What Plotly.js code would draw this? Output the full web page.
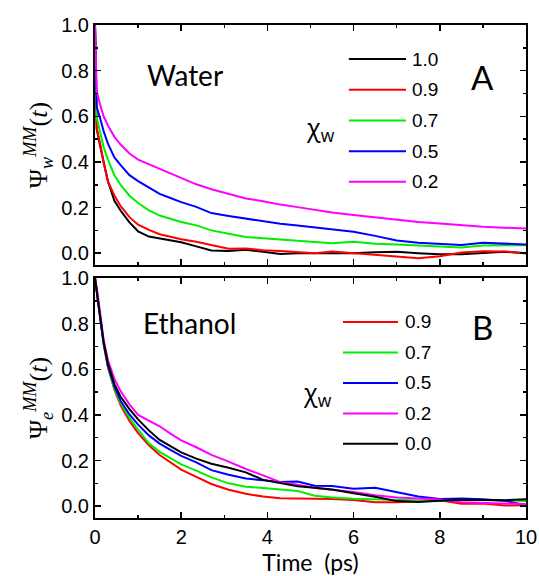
<!DOCTYPE html>
<html>
<head>
<meta charset="utf-8">
<script src="https://cdn.plot.ly/plotly-3.0.1.min.js"></script>
<style>
html,body{margin:0;padding:0;background:#fff;}
#chart{width:539px;height:576px;}
</style>
</head>
<body>
<div id="chart"></div>
<script>
// ---------- DATA ----------
// Panel A (water): time grid (ps)
const timeWater = [0, 0.04, 0.12, 0.2, 0.3, 0.45, 0.6, 0.8, 1.0, 1.25, 1.5, 1.75, 2.0, 2.35, 2.7, 3.1, 3.5, 3.9, 4.3, 4.7, 5.1, 5.5, 6.0, 6.5, 7.0, 7.5, 8.0, 8.5, 9.0, 9.5, 10.0];
const water10 = [1.0, 0.545, 0.47, 0.395, 0.315, 0.23, 0.185, 0.135, 0.096, 0.073, 0.064, 0.058, 0.048, 0.03, 0.012, 0.01, 0.015, 0.006, -0.003, 0.0, 0.0, 0.0, 0.0, 0.004, 0.006, 0.0, -0.004, -0.004, 0.002, 0.006, 0.0];
const water09 = [1.0, 0.545, 0.48, 0.395, 0.315, 0.253, 0.205, 0.158, 0.125, 0.102, 0.083, 0.072, 0.061, 0.05, 0.036, 0.02, 0.021, 0.013, 0.01, 0.005, 0.0, 0.008, 0.0, -0.007, -0.013, -0.022, -0.013, 0.003, 0.009, 0.008, 0.0];
const water07 = [1.0, 0.595, 0.53, 0.465, 0.41, 0.342, 0.298, 0.252, 0.22, 0.188, 0.165, 0.15, 0.137, 0.122, 0.10, 0.085, 0.071, 0.066, 0.06, 0.056, 0.05, 0.044, 0.05, 0.041, 0.038, 0.034, 0.03, 0.025, 0.034, 0.036, 0.035];
const water05 = [1.0, 0.64, 0.59, 0.535, 0.48, 0.42, 0.385, 0.342, 0.316, 0.287, 0.26, 0.242, 0.224, 0.203, 0.176, 0.163, 0.151, 0.14, 0.129, 0.122, 0.114, 0.104, 0.094, 0.076, 0.056, 0.046, 0.042, 0.036, 0.046, 0.042, 0.038];
const water02 = [1.0, 0.71, 0.65, 0.60, 0.56, 0.51, 0.475, 0.437, 0.41, 0.39, 0.37, 0.35, 0.33, 0.302, 0.28, 0.26, 0.24, 0.228, 0.213, 0.202, 0.19, 0.178, 0.167, 0.156, 0.145, 0.137, 0.13, 0.122, 0.116, 0.112, 0.108];

// Panel B (ethanol)
const timeEthanol = [0, 0.05, 0.12, 0.2, 0.3, 0.45, 0.6, 0.8, 1.0, 1.25, 1.5, 1.75, 2.0, 2.35, 2.7, 3.1, 3.5, 3.9, 4.3, 4.7, 5.1, 5.5, 6.0, 6.5, 7.0, 7.5, 8.0, 8.5, 9.0, 9.5, 10.0];
const ethanol09 = [1.0, 0.93, 0.82, 0.71, 0.61, 0.51, 0.44, 0.373, 0.32, 0.267, 0.224, 0.19, 0.16, 0.128, 0.097, 0.072, 0.054, 0.042, 0.035, 0.034, 0.033, 0.031, 0.027, 0.017, 0.017, 0.02, 0.026, 0.01, 0.012, 0.003, 0.004];
const ethanol07 = [1.0, 0.93, 0.82, 0.71, 0.61, 0.515, 0.45, 0.387, 0.335, 0.275, 0.238, 0.21, 0.183, 0.156, 0.126, 0.10, 0.085, 0.08, 0.072, 0.066, 0.046, 0.038, 0.032, 0.029, 0.026, 0.023, 0.023, 0.028, 0.027, 0.025, 0.023];
const ethanol05 = [1.0, 0.935, 0.825, 0.715, 0.615, 0.525, 0.46, 0.402, 0.357, 0.31, 0.274, 0.247, 0.22, 0.192, 0.158, 0.138, 0.121, 0.113, 0.106, 0.108, 0.089, 0.088, 0.076, 0.081, 0.062, 0.042, 0.031, 0.034, 0.03, 0.024, 0.004];
const ethanol02 = [1.0, 0.945, 0.845, 0.73, 0.64, 0.558, 0.502, 0.446, 0.40, 0.376, 0.35, 0.318, 0.288, 0.258, 0.225, 0.195, 0.163, 0.135, 0.105, 0.094, 0.08, 0.072, 0.062, 0.048, 0.038, 0.033, 0.029, 0.017, 0.014, 0.012, 0.009];
const ethanol00 = [1.0, 0.935, 0.83, 0.72, 0.625, 0.535, 0.478, 0.425, 0.38, 0.332, 0.29, 0.262, 0.236, 0.208, 0.186, 0.168, 0.148, 0.115, 0.102, 0.087, 0.081, 0.073, 0.056, 0.041, 0.022, 0.018, 0.024, 0.028, 0.027, 0.026, 0.03];

// Legend labels (mole fraction of water) and colours
const waterLabels = ['1.0', '0.9', '0.7', '0.5', '0.2'];
const waterSeries = [water10, water09, water07, water05, water02];
const waterColors = ['#000000', '#ff0000', '#00ee00', '#0000ff', '#ff00ff'];
const ethanolLabels = ['0.9', '0.7', '0.5', '0.2', '0.0'];
const ethanolSeries = [ethanol09, ethanol07, ethanol05, ethanol02, ethanol00];
const ethanolColors = ['#ff0000', '#00ee00', '#0000ff', '#ff00ff', '#000000'];

const xTicks = [0, 2, 4, 6, 8, 10];
const yTicks = [0.0, 0.2, 0.4, 0.6, 0.8, 1.0];

// ---------- TRACES ----------
const traces = [];
waterSeries.forEach((s, i) => {
  traces.push({x: timeWater, y: s, xaxis: 'x', yaxis: 'y', type: 'scatter', mode: 'lines',
    line: {color: waterColors[i], width: 2}, name: waterLabels[i], showlegend: false});
});
ethanolSeries.forEach((s, i) => {
  traces.push({x: timeEthanol, y: s, xaxis: 'x2', yaxis: 'y2', type: 'scatter', mode: 'lines',
    line: {color: ethanolColors[i], width: 2}, name: ethanolLabels[i], showlegend: false});
});

// ---------- LAYOUT ----------
const tickFont = {family: 'Liberation Sans, Arial, sans-serif', size: 20, color: '#000'};
function xAxis(anchor, labels) {
  return {
    anchor: anchor, domain: [0, 1], range: [0, 10],
    tickmode: 'array', tickvals: xTicks, ticktext: xTicks.map(String),
    showticklabels: labels, ticks: 'inside', ticklen: 6, tickwidth: 1.5, tickcolor: '#000',
    minor: {ticks: 'inside', ticklen: 3, tickwidth: 1.5, dtick: 1, tick0: 0, tickcolor: '#000'},
    showline: true, linewidth: 2, linecolor: '#000', mirror: 'allticks',
    showgrid: false, zeroline: false, tickfont: tickFont
  };
}
function yAxis(anchor, domain, titleHtml) {
  return {
    anchor: anchor, domain: domain, range: [-0.052, 1.0],
    tickmode: 'array', tickvals: yTicks, ticktext: yTicks.map(v => v.toFixed(1)),
    ticks: 'inside', ticklen: 6, tickwidth: 1.5, tickcolor: '#000',
    minor: {ticks: 'inside', ticklen: 3, tickwidth: 1.5, dtick: 0.1, tick0: 0, tickcolor: '#000'},
    showline: true, linewidth: 2, linecolor: '#000', mirror: 'allticks',
    showgrid: false, zeroline: false, tickfont: tickFont,
    title: {text: titleHtml, font: {family: 'Liberation Serif, Times New Roman, serif', size: 26, color: '#000'}, standoff: 6}
  };
}

const shapes = [];
const annotations = [];
const labelFont = {family: 'Liberation Sans, Arial, sans-serif', size: 19, color: '#000'};
// legend A
const legA = {x0: 0.589, x1: 0.7216, tx: 0.731, y0: 0.931, dy: 0.0623};
waterLabels.forEach((lab, i) => {
  const yy = legA.y0 - i * legA.dy;
  shapes.push({type: 'line', xref: 'paper', yref: 'paper', x0: legA.x0, x1: legA.x1, y0: yy, y1: yy,
    line: {color: waterColors[i], width: 2}});
  annotations.push({xref: 'paper', yref: 'paper', x: legA.tx, y: yy, xanchor: 'left', yanchor: 'middle',
    text: lab, showarrow: false, font: labelFont});
});
// legend B
const legB = {x0: 0.5754, x1: 0.703, tx: 0.7146, y0: 0.3976, dy: 0.0618};
ethanolLabels.forEach((lab, i) => {
  const yy = legB.y0 - i * legB.dy;
  shapes.push({type: 'line', xref: 'paper', yref: 'paper', x0: legB.x0, x1: legB.x1, y0: yy, y1: yy,
    line: {color: ethanolColors[i], width: 2}});
  annotations.push({xref: 'paper', yref: 'paper', x: legB.tx, y: yy, xanchor: 'left', yanchor: 'middle',
    text: lab, showarrow: false, font: labelFont});
});

const textFont = {family: 'Lato, Open Sans, sans-serif', size: 28, color: '#000'};
const chiFont = {family: 'Open Sans, DejaVu Sans, sans-serif', size: 25, color: '#000'};
annotations.push(
  {xref: 'paper', yref: 'paper', x: 0.209, y: 0.899, text: 'Water', showarrow: false, font: textFont, xanchor: 'center', yanchor: 'middle'},
  {xref: 'paper', yref: 'paper', x: 0.220, y: 0.3955, text: 'Ethanol', showarrow: false, font: textFont, xanchor: 'center', yanchor: 'middle'},
  {xref: 'paper', yref: 'paper', x: 0.898, y: 0.8945, text: 'A', showarrow: false, font: {family: 'Lato, Open Sans, sans-serif', size: 33, color: '#000'}, xanchor: 'center', yanchor: 'middle'},
  {xref: 'paper', yref: 'paper', x: 0.900, y: 0.387, text: 'B', showarrow: false, font: {family: 'Lato, Open Sans, sans-serif', size: 33, color: '#000'}, xanchor: 'center', yanchor: 'middle'},
  {xref: 'paper', yref: 'paper', x: 0.524, y: 0.791, text: 'χ<sub>w</sub>', showarrow: false, font: chiFont, xanchor: 'center', yanchor: 'middle'},
  {xref: 'paper', yref: 'paper', x: 0.517, y: 0.2535, text: 'χ<sub>w</sub>', showarrow: false, font: chiFont, xanchor: 'center', yanchor: 'middle'}
);

const xa2 = xAxis('y2', true);
xa2.title = {text: 'Time\u00a0\u00a0(ps)', font: {family: 'Lato, Open Sans, sans-serif', size: 23, color: '#000'}, standoff: 6};

const layout = {
  width: 539, height: 576,
  margin: {l: 95, r: 13, t: 25, b: 58, pad: 0},
  paper_bgcolor: '#fff', plot_bgcolor: '#fff',
  showlegend: false,
  xaxis: xAxis('y', false),
  yaxis: yAxis('x', [0.513, 1.0], 'Ψ<sub><i>w</i></sub><sup><i>MM</i></sup>(<i>t</i>)'),
  xaxis2: xa2,
  yaxis2: yAxis('x2', [0, 0.4868], 'Ψ<sub><i>e</i></sub><sup><i>MM</i></sup>(<i>t</i>)'),
  shapes: shapes,
  annotations: annotations
};

Plotly.newPlot('chart', traces, layout, {staticPlot: true, displayModeBar: false});
</script>
</body>
</html>
